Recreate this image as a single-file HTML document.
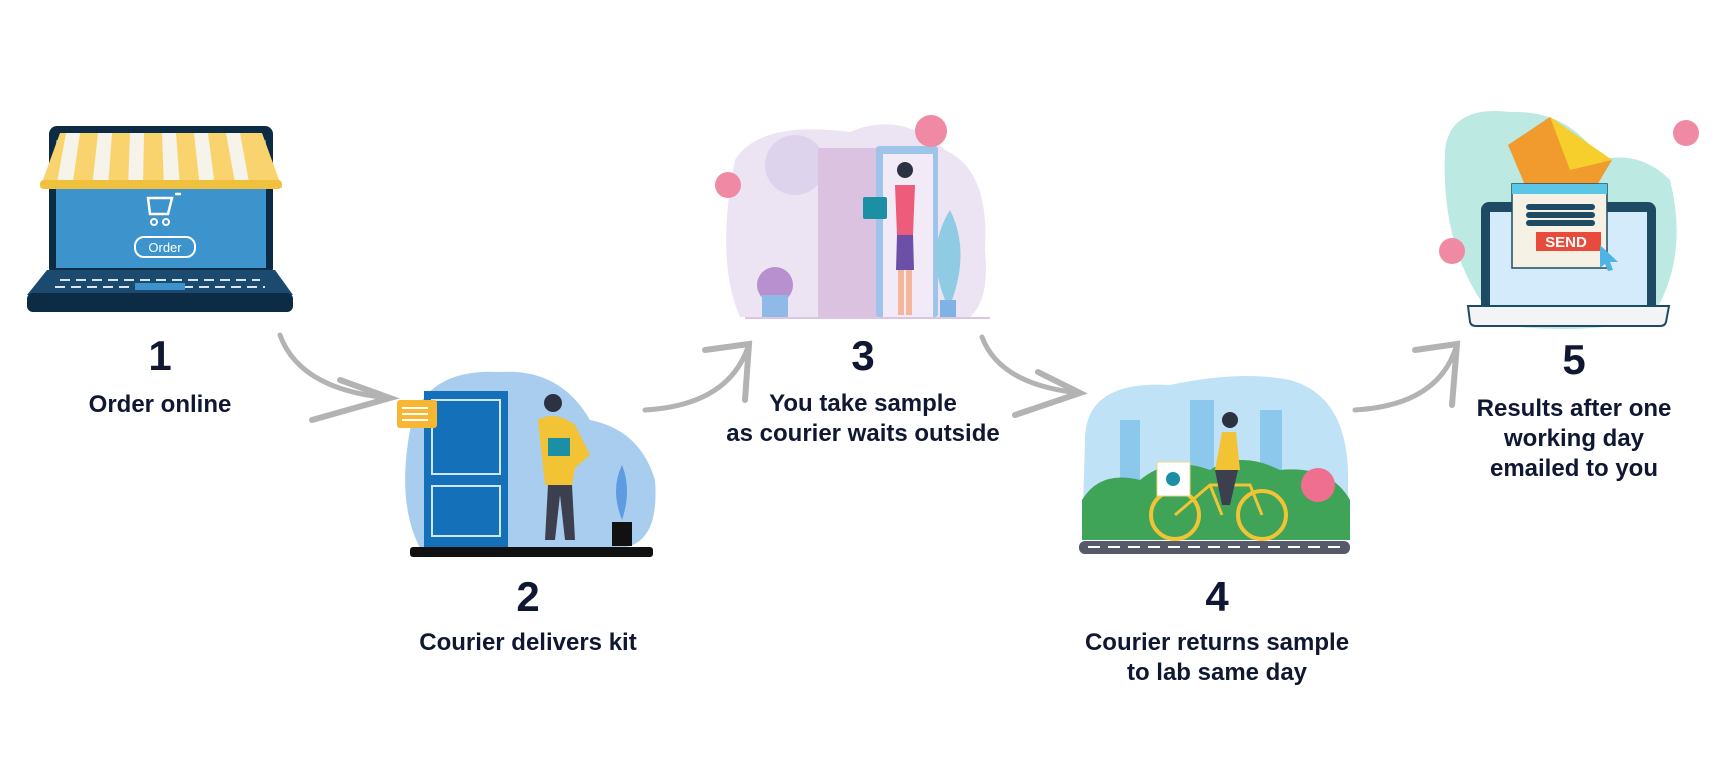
<!DOCTYPE html>
<html><head><meta charset="utf-8"><style>
html,body{margin:0;padding:0;background:#fff;}
svg{display:block;}
.n{font-family:"Liberation Sans",sans-serif;font-weight:bold;fill:#0f1733;font-size:42px;text-anchor:middle;}
.t{font-family:"Liberation Sans",sans-serif;font-weight:bold;fill:#0f1733;font-size:24px;text-anchor:middle;}
</style></head><body>
<svg width="1714" height="768" viewBox="0 0 1714 768" xmlns="http://www.w3.org/2000/svg">
<!-- Step 1 laptop -->
<rect x="49" y="126" width="224" height="150" rx="8" fill="#0c2c45"/>
<rect x="56" y="140" width="210" height="128" fill="#3d94cc"/>
<g>
<path d="M40 188 L60 133 L262 133 L282 188 Z" fill="#f9d46e"/>
<path d="M66 133 L80 133 L72 188 L56 188Z M98 133 L112 133 L108 188 L92 188Z M130 133 L144 133 L143 188 L128 188Z M162 133 L176 133 L180 188 L164 188Z M194 133 L208 133 L215 188 L200 188Z M226 133 L240 133 L250 188 L236 188Z" fill="#f6f3ea"/>
<rect x="40" y="180" width="242" height="9" rx="4" fill="#efc13e"/>
</g>
<rect x="135" y="237" width="60" height="20" rx="9" fill="none" stroke="#fff" stroke-width="2"/>
<text x="165" y="252" font-family="Liberation Sans,sans-serif" font-size="13" fill="#fff" text-anchor="middle">Order</text>
<path d="M148 198 h24 l-4 16 h-18z M175 194 h6" fill="none" stroke="#fff" stroke-width="2.5"/>
<circle cx="154" cy="222" r="3" fill="none" stroke="#fff" stroke-width="2"/><circle cx="166" cy="222" r="3" fill="none" stroke="#fff" stroke-width="2"/>
<path d="M47 270 L275 270 L293 295 L27 295 Z" fill="#1b4a6e"/>
<rect x="27" y="293" width="266" height="19" rx="6" fill="#0c2c45"/>
<g stroke="#d8e8f2" stroke-width="2"><line x1="60" y1="280" x2="260" y2="280" stroke-dasharray="10 6"/><line x1="55" y1="287" x2="265" y2="287" stroke-dasharray="10 6"/></g>
<rect x="135" y="283" width="50" height="7" fill="#3d94cc"/>
<text class="n" x="160" y="370">1</text>
<text class="t" x="160" y="412">Order online</text>

<!-- arrows -->
<g fill="none" stroke="#b3b3b3" stroke-linecap="round">
<path d="M280 335 Q300 390 390 398" stroke-width="5"/>
<path d="M340 380 L390 398 L312 420" stroke-width="6"/>
<path d="M645 410 Q730 405 749 344" stroke-width="5"/>
<path d="M705 350 L749 344 L745 400" stroke-width="6"/>
<path d="M982 337 Q1000 385 1080 393" stroke-width="5"/>
<path d="M1038 372 L1080 393 L1015 415" stroke-width="6"/>
<path d="M1355 410 Q1440 405 1457 344" stroke-width="5"/>
<path d="M1415 350 L1457 344 L1452 405" stroke-width="6"/>
</g>

<!-- Step 2 -->
<path d="M412 420 Q430 368 500 372 Q560 368 590 420 Q640 430 655 480 Q660 545 620 548 L420 548 Q395 500 412 420Z" fill="#a9cdee"/>
<rect x="424" y="391" width="84" height="156" fill="#1470b8"/>
<rect x="432" y="400" width="68" height="74" fill="none" stroke="#cfe6f7" stroke-width="2"/>
<rect x="432" y="486" width="68" height="50" fill="none" stroke="#cfe6f7" stroke-width="2"/>
<rect x="397" y="400" width="40" height="28" rx="3" fill="#f7b733"/>
<g stroke="#fff" stroke-width="2"><line x1="402" y1="408" x2="428" y2="408"/><line x1="402" y1="414" x2="428" y2="414"/><line x1="402" y1="420" x2="428" y2="420"/></g>
<circle cx="553" cy="403" r="9" fill="#2d3242"/>
<path d="M538 420 Q555 410 575 425 L590 455 L575 468 L572 485 L545 485 Z" fill="#f2c335"/>
<rect x="548" y="438" width="22" height="18" fill="#1b8fa3"/>
<path d="M548 485 L572 485 L575 540 L565 540 L560 495 L555 540 L545 540Z" fill="#3c3f4d"/>
<rect x="612" y="522" width="20" height="24" fill="#111"/>
<path d="M622 520 Q610 490 622 465 Q632 490 622 520" fill="#5e9be0"/>
<rect x="410" y="547" width="243" height="10" rx="3" fill="#111"/>
<text class="n" x="528" y="611">2</text>
<text class="t" x="528" y="650">Courier delivers kit</text>

<!-- Step 3 -->
<path d="M735 160 Q760 120 850 132 Q900 110 945 150 Q990 170 985 250 Q990 300 970 317 L740 317 Q715 260 735 160Z" fill="#ece4f3"/>
<circle cx="795" cy="165" r="30" fill="#ddd3ec"/>
<rect x="818" y="148" width="65" height="169" fill="#dbc2e1"/>
<rect x="876" y="146" width="62" height="171" rx="3" fill="#9ec4ea"/>
<rect x="883" y="154" width="50" height="163" fill="#f2eaf6"/>
<circle cx="905" cy="170" r="8" fill="#2d3242"/>
<path d="M895 185 L915 185 L913 235 L897 235Z" fill="#ee5c7b"/>
<path d="M897 235 L913 235 L914 270 L896 270Z" fill="#6c4fa7"/>
<rect x="898" y="270" width="6" height="45" fill="#f5b59a"/><rect x="906" y="270" width="6" height="45" fill="#f5b59a"/>
<rect x="863" y="197" width="24" height="22" rx="2" fill="#1b8fa3"/>
<path d="M945 300 Q925 250 950 210 Q970 250 952 300Z" fill="#8fcbe3"/>
<rect x="940" y="300" width="16" height="17" fill="#7fb3e6"/>
<circle cx="775" cy="285" r="18" fill="#b88fcf"/>
<rect x="762" y="295" width="26" height="22" fill="#8fb9e6"/>
<circle cx="931" cy="131" r="16" fill="#f08aa4"/>
<circle cx="728" cy="185" r="13" fill="#f08aa4"/>
<line x1="745" y1="318" x2="990" y2="318" stroke="#d9c6e4" stroke-width="2"/>
<text class="n" x="863" y="370">3</text>
<text class="t" x="863" y="411">You take sample</text>
<text class="t" x="863" y="441">as courier waits outside</text>

<!-- Step 4 -->
<path d="M1085 440 Q1085 380 1170 385 Q1240 370 1290 380 Q1345 395 1348 470 L1348 540 L1082 540Z" fill="#bfe2f6"/>
<rect x="1120" y="420" width="20" height="70" fill="#8cc8ec"/>
<rect x="1190" y="400" width="24" height="90" fill="#8cc8ec"/>
<rect x="1260" y="410" width="22" height="80" fill="#8cc8ec"/>
<path d="M1082 540 L1082 500 Q1100 470 1140 480 Q1170 455 1210 470 Q1240 450 1280 470 Q1330 465 1350 500 L1350 540Z" fill="#3fa457"/>
<circle cx="1318" cy="485" r="17" fill="#ee6f8f"/>
<circle cx="1175" cy="515" r="24" fill="none" stroke="#f2c335" stroke-width="4"/>
<circle cx="1262" cy="515" r="24" fill="none" stroke="#f2c335" stroke-width="4"/>
<path d="M1175 515 L1210 485 L1250 485 L1262 515 M1210 485 L1222 515" fill="none" stroke="#f2c335" stroke-width="3"/>
<rect x="1157" y="462" width="33" height="34" fill="#fff" stroke="#e8d58a"/>
<circle cx="1173" cy="479" r="7" fill="#1b8fa3"/>
<circle cx="1230" cy="420" r="8" fill="#2d3242"/>
<path d="M1222 432 L1236 432 L1240 470 L1215 470Z" fill="#f2c335"/>
<path d="M1215 470 L1238 470 L1230 505 L1222 505Z" fill="#3c3f4d"/>
<rect x="1079" y="541" width="271" height="13" rx="6" fill="#55596a"/>
<line x1="1088" y1="547" x2="1342" y2="547" stroke="#fff" stroke-width="2" stroke-dasharray="12 8"/>
<text class="n" x="1217" y="611">4</text>
<text class="t" x="1217" y="650">Courier returns sample</text>
<text class="t" x="1217" y="680">to lab same day</text>

<!-- Step 5 -->
<path d="M1445 150 Q1450 105 1510 112 Q1570 110 1600 160 Q1640 150 1670 180 Q1690 260 1650 320 Q1580 335 1500 325 Q1440 260 1445 150Z" fill="#bce9e2"/>
<rect x="1481" y="202" width="175" height="115" rx="8" fill="#1f4a63"/>
<rect x="1490" y="212" width="157" height="98" fill="#d3ebfa"/>
<path d="M1468 306 L1669 306 L1666 322 Q1665 326 1660 326 L1476 326 Q1471 326 1470 322Z" fill="#f3f4f6" stroke="#1f4a63" stroke-width="2"/>
<path d="M1508 145 L1550 117 L1612 160 L1590 197 L1530 197Z" fill="#f19a2e"/>
<path d="M1550 117 L1612 160 L1570 170Z" fill="#f6cf2c"/>
<rect x="1512" y="184" width="95" height="84" fill="#f5f1e4" stroke="#1f4a63" stroke-width="1.5"/>
<rect x="1512" y="184" width="95" height="10" fill="#5bc6e6"/>
<rect x="1526" y="204" width="69" height="6" rx="3" fill="#1f4a63"/>
<rect x="1526" y="212" width="69" height="6" rx="3" fill="#1f4a63"/>
<rect x="1526" y="220" width="69" height="6" rx="3" fill="#1f4a63"/>
<rect x="1536" y="232" width="65" height="19" fill="#e84b3c"/>
<text x="1566" y="247" font-family="Liberation Sans,sans-serif" font-weight="bold" font-size="15" fill="#fff" text-anchor="middle">SEND</text>
<path d="M1600 245 L1618 262 L1610 262 L1613 270 L1608 271 L1605 264 L1600 268Z" fill="#4fb3e6"/>
<circle cx="1686" cy="133" r="13" fill="#f08aa4"/>
<circle cx="1452" cy="251" r="13" fill="#f08aa4"/>
<text class="n" x="1574" y="374">5</text>
<text class="t" x="1574" y="416">Results after one</text>
<text class="t" x="1574" y="446">working day</text>
<text class="t" x="1574" y="476">emailed to you</text>
</svg>
</body></html>
